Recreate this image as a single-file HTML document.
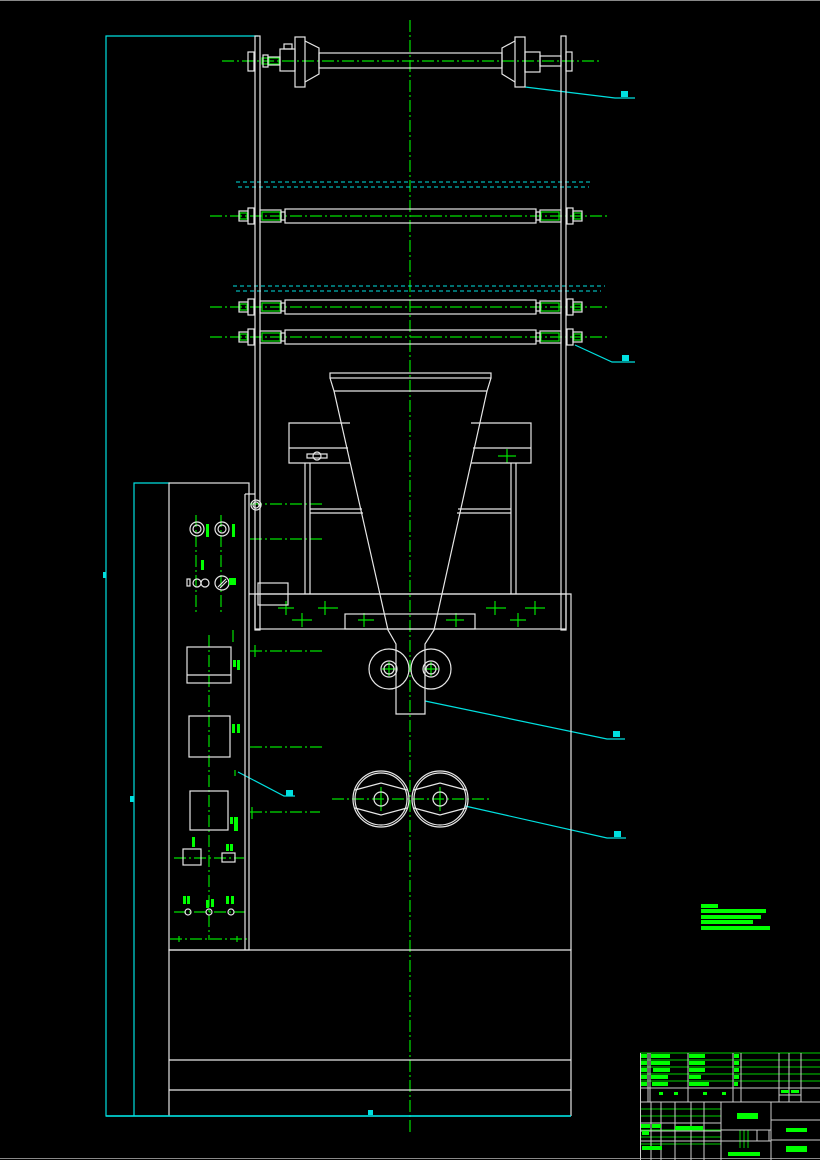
<!DOCTYPE html>
<html><head><meta charset="utf-8"><style>
html,body{margin:0;padding:0;background:#000;}
svg{display:block;}
</style></head><body>
<svg width="820" height="1160" viewBox="0 0 820 1160" xmlns="http://www.w3.org/2000/svg">
<rect width="820" height="1160" fill="#000"/>
<line x1="0" y1="0.5" x2="820" y2="0.5" stroke="#888" stroke-width="1"/>
<line x1="0" y1="1158.5" x2="820" y2="1158.5" stroke="#888" stroke-width="1"/>

<g stroke="#00e000" stroke-width="1.2" stroke-dasharray="12,3,2,3" fill="none">
<line x1="410" y1="20" x2="410" y2="1132"/>
<line x1="222" y1="61" x2="600" y2="61"/>
<line x1="210" y1="216" x2="610" y2="216"/>
<line x1="210" y1="307" x2="610" y2="307"/>
<line x1="210" y1="337" x2="610" y2="337"/>
<line x1="250" y1="504" x2="325" y2="504"/>
<line x1="250" y1="539" x2="322" y2="539"/>
<line x1="250" y1="651" x2="322" y2="651"/>
<line x1="250" y1="747" x2="322" y2="747"/>
<line x1="250" y1="812" x2="320" y2="812"/>
<line x1="332" y1="799" x2="490" y2="799"/>
<line x1="196" y1="515" x2="196" y2="612"/>
<line x1="221" y1="515" x2="221" y2="612"/>
<line x1="209" y1="635" x2="209" y2="940"/>
<line x1="174" y1="858" x2="244" y2="858"/>
<line x1="174" y1="912" x2="245" y2="912"/>
<line x1="170" y1="939" x2="248" y2="939"/>
</g>
<g stroke="#00e000" stroke-width="1.2" fill="none">
<path d="M381,787v24M440,787v24M389,662v14M431,662v14M382,669h14M424,669h14"/>
<path d="M278,608h16M286,601v14M292,620h20M302,613v14M318,608h20M325,601v14M358,620h16M364,613v14M446,620h18M456,613v14M486,608h20M495,601v14M510,620h16M518,613v14M525,608h20M535,601v14M498,456h18M507,449v14M255,645v12M252,807v12M237,936v6M179,936v6M233,630v12M235,770v6"/>
<g id="gs">
<rect x="262" y="212" width="18" height="8"/><rect x="541" y="212" width="18" height="8"/>
<rect x="240" y="213" width="7" height="6"/><rect x="574" y="213" width="7" height="6"/>
</g>
<use href="#gs" y="91"/><use href="#gs" y="121"/>
<rect x="262" y="58" width="6" height="6"/><rect x="269" y="58" width="10" height="6"/>
</g>

<g stroke="#00e0e0" stroke-width="1.2" fill="none">
<path d="M258,36H106V1116H571"/>
<path d="M170,483H134V1116"/>
<path d="M525,87L615,98H635"/>
<path d="M575,345L612,362H635"/>
<path d="M425,701L607,739H625"/>
<path d="M465,806L607,838H626"/>
<path d="M238,772L284,796H295"/>
</g>
<g stroke="#00e0e0" stroke-width="1" stroke-dasharray="4,3" fill="none">
<line x1="236" y1="182" x2="592" y2="182"/>
<line x1="238" y1="187" x2="589" y2="187"/>
<line x1="233" y1="286" x2="605" y2="286"/>
<line x1="236" y1="291" x2="601" y2="291"/>
</g>
<g fill="#00e0e0">
<rect x="621" y="91" width="7" height="6"/><rect x="622" y="355" width="7" height="6"/>
<rect x="613" y="731" width="7" height="6"/><rect x="614" y="831" width="7" height="6"/>
<rect x="286" y="790" width="7" height="6"/><rect x="103" y="572" width="3" height="6"/>
<rect x="130" y="796" width="4" height="6"/><rect x="368" y="1110" width="5" height="5"/>
</g>

<g stroke="#e6e6e6" stroke-width="1.2" fill="none">
<rect x="255" y="36" width="5" height="594"/>
<rect x="561" y="36" width="5" height="594"/>
<rect x="248" y="52" width="6" height="19"/>
<rect x="263" y="55" width="5" height="12"/>
<rect x="268" y="57" width="12" height="8"/>
<rect x="280" y="49" width="15" height="22"/>
<rect x="284" y="44" width="8" height="5"/>
<rect x="295" y="37" width="10" height="50"/>
<path d="M305,41L319,48V74L305,82"/>
<rect x="319" y="53" width="183" height="15"/>
<path d="M515,41L502,48V74L515,82"/>
<rect x="515" y="37" width="10" height="50"/>
<rect x="525" y="52" width="15" height="20"/>
<rect x="540" y="56" width="21" height="10"/>
<rect x="566" y="52" width="6" height="19"/>
<g id="sh">
<rect x="239" y="211" width="9" height="10"/>
<rect x="248" y="208" width="6" height="16"/>
<rect x="260" y="210" width="21" height="12"/>
<rect x="281" y="212" width="4" height="8"/>
<rect x="285" y="209" width="251" height="14"/>
<rect x="536" y="212" width="4" height="8"/>
<rect x="540" y="210" width="21" height="12"/>
<rect x="567" y="208" width="6" height="16"/>
<rect x="573" y="211" width="9" height="10"/>
</g>
<use href="#sh" y="91"/>
<use href="#sh" y="121"/>
<rect x="330" y="373" width="161" height="5"/>
<path d="M330,378L334,391H487L491,378"/>
<path d="M334,391L388,630L396,644V714H425V644L434,630L487,391"/>
<path d="M350,423H289V463H350M289,448H348"/>
<path d="M471,423H531V463H471M473,448H531"/>
<path d="M305,463V594M310,463V594M511,463V594M516,463V594"/>
<path d="M310,509H362M310,513H363M458,509H511M457,513H511"/>
<rect x="307" y="454" width="20" height="4"/>
<circle cx="317" cy="456" r="4"/>
<path d="M249,594H571V950"/>
<rect x="255" y="594" width="311" height="35"/>
<rect x="345" y="614" width="130" height="15"/>
<rect x="258" y="583" width="30" height="22"/>
<circle cx="389" cy="669" r="20"/><circle cx="389" cy="669" r="8"/><circle cx="389" cy="669" r="5"/>
<circle cx="431" cy="669" r="20"/><circle cx="431" cy="669" r="8"/><circle cx="431" cy="669" r="5"/>
<circle cx="381" cy="799" r="28"/><circle cx="381" cy="799" r="26"/><circle cx="381" cy="799" r="7"/>
<path d="M355,790L381,783L407,790M355,808L381,815L407,808"/>
<circle cx="440" cy="799" r="28"/><circle cx="440" cy="799" r="26"/><circle cx="440" cy="799" r="7"/>
<path d="M414,790L440,783L466,790M414,808L440,815L466,808"/>
<rect x="169" y="483" width="80" height="467"/>
<line x1="245" y1="494" x2="245" y2="950"/>
<path d="M245,494H255"/>
<circle cx="256" cy="505" r="5"/><circle cx="256" cy="505" r="3"/>
<circle cx="197" cy="529" r="7"/><circle cx="197" cy="529" r="4"/>
<circle cx="222" cy="529" r="7"/><circle cx="222" cy="529" r="4"/>
<rect x="187" y="579" width="3" height="7"/><circle cx="197" cy="583" r="4"/><circle cx="205" cy="583" r="4"/>
<circle cx="222" cy="583" r="7"/><path d="M218,587L226,579M220,588L227,581"/>
<rect x="187" y="647" width="44" height="36"/><line x1="187" y1="675" x2="231" y2="675"/>
<rect x="189" y="716" width="41" height="41"/>
<rect x="190" y="791" width="38" height="39"/>
<rect x="183" y="849" width="18" height="16"/>
<rect x="222" y="853" width="13" height="9"/>
<circle cx="188" cy="912" r="3"/><circle cx="209" cy="912" r="3"/><circle cx="231" cy="912" r="3"/>
<path d="M169,1116V950H571V1116M169,1060H571M169,1090H571"/>
</g>
<line x1="106" y1="1116" x2="571" y2="1116" stroke="#00e0e0" stroke-width="1.4"/>

<g fill="#00ff00">
<rect x="206" y="524" width="3" height="13"/><rect x="232" y="524" width="3" height="13"/>
<rect x="201" y="560" width="3" height="10"/><rect x="229" y="578" width="4" height="7"/><rect x="233" y="578" width="3" height="7"/>
<rect x="233" y="660" width="3" height="7"/><rect x="237" y="660" width="3" height="10"/>
<rect x="232" y="724" width="3" height="9"/><rect x="237" y="724" width="3" height="9"/>
<rect x="230" y="817" width="3" height="7"/><rect x="234" y="817" width="4" height="14"/>
<rect x="192" y="837" width="3" height="10"/><rect x="226" y="844" width="3" height="7"/><rect x="230" y="844" width="3" height="7"/>
<rect x="183" y="896" width="3" height="8"/><rect x="187" y="896" width="3" height="8"/>
<rect x="206" y="900" width="3" height="8"/><rect x="211" y="899" width="3" height="8"/>
<rect x="226" y="896" width="3" height="8"/><rect x="231" y="896" width="3" height="8"/>
<rect x="701" y="904" width="17" height="4"/><rect x="701" y="909" width="65" height="4"/>
<rect x="701" y="915" width="60" height="4"/><rect x="701" y="920" width="52" height="4"/>
<rect x="701" y="926" width="69" height="4"/>
</g>

<g stroke="#00d000" stroke-width="1" fill="none">
<path d="M640,1053H820M640,1060H820M640,1067H820M640,1074H820M640,1081H820M640,1088H820"/>
<path d="M640,1109H721M640,1116H721M640,1123H721M640,1130H721M640,1137H721M640,1144H721M740,1130V1148M744,1130V1148M748,1130V1148"/>
</g>
<g stroke="#ccc" stroke-width="1" fill="none">
<path d="M640.5,1053V1160M648,1053V1102M650,1053V1102M688,1053V1102M733,1053V1102M741,1053V1102M779,1053V1102M789,1053V1102M801,1053V1102"/>
<path d="M640,1088H820M640,1102H820M779,1095H801"/>
<path d="M651,1102V1160M661,1102V1160M675,1102V1160M691,1102V1160M704,1102V1160M721,1102V1160M771,1102V1160"/>
<path d="M640,1123H721M640,1131H721M640,1141H721M721,1130H771M721,1141H771M771,1120H820M771,1140H820M757,1130V1141M769,1130V1141"/>
</g>
<g fill="#00ff00">
<rect x="641" y="1054" width="6" height="4"/><rect x="651" y="1054" width="19" height="4"/><rect x="689" y="1054" width="16" height="4"/><rect x="734" y="1054" width="5" height="4"/>
<rect x="641" y="1061" width="6" height="4"/><rect x="651" y="1061" width="19" height="4"/><rect x="689" y="1061" width="16" height="4"/><rect x="734" y="1061" width="5" height="4"/>
<rect x="641" y="1068" width="6" height="4"/><rect x="653" y="1068" width="17" height="4"/><rect x="689" y="1068" width="16" height="4"/><rect x="734" y="1068" width="5" height="4"/>
<rect x="641" y="1075" width="6" height="4"/><rect x="651" y="1075" width="17" height="4"/><rect x="689" y="1075" width="12" height="4"/><rect x="734" y="1075" width="5" height="4"/>
<rect x="641" y="1082" width="6" height="4"/><rect x="652" y="1082" width="16" height="4"/><rect x="689" y="1082" width="20" height="4"/><rect x="734" y="1082" width="4" height="4"/>
<rect x="659" y="1092" width="4" height="3"/><rect x="674" y="1092" width="4" height="3"/><rect x="703" y="1092" width="4" height="3"/><rect x="722" y="1092" width="4" height="3"/>
<rect x="781" y="1090" width="8" height="3"/><rect x="791" y="1090" width="8" height="3"/>
<rect x="641" y="1124" width="9" height="4"/><rect x="652" y="1124" width="9" height="4"/><rect x="675" y="1126" width="28" height="4"/>
<rect x="642" y="1131" width="7" height="4"/><rect x="642" y="1146" width="20" height="4"/>
<rect x="737" y="1113" width="21" height="6"/><rect x="786" y="1128" width="21" height="4"/><rect x="786" y="1146" width="21" height="6"/>
<rect x="728" y="1152" width="32" height="4"/>
</g>
</svg>
</body></html>
